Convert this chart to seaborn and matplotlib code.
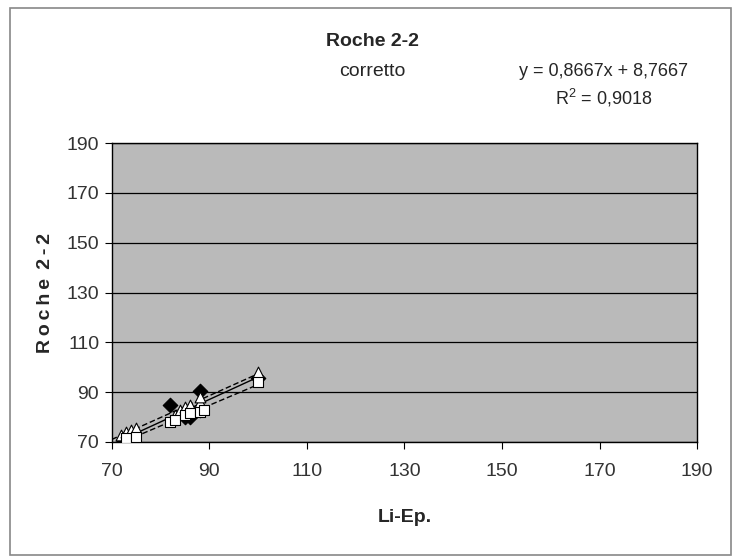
import numpy as np
import pandas as pd
import seaborn as sns
import matplotlib.pyplot as plt
from matplotlib.patches import Rectangle

# Data
diam_x = [72.5, 73, 82, 85, 86, 88, 88, 100]
diam_y = [71, 70.5, 85, 80, 80, 90.5, 83, 95.5]
tri_x = [72, 73, 74, 75, 83, 84, 85, 86, 88, 88, 100]
tri_y = [73, 74, 75, 75.5, 81, 83, 84, 85, 86, 88, 98]
sq_x = [73, 75, 82, 83, 85, 86, 88, 89, 100]
sq_y = [71.5, 72, 78, 79, 81, 81.5, 82, 83, 94]

ticks = [70, 90, 110, 130, 150, 170, 190]
title = "Roche 2-2"
subtitle = "corretto"
equation = "y = 0,8667x + 8,7667"
r2 = "R$^2$ = 0,9018"
xlabel = "Li-Ep."
ylabel = "R\u2009o\u2009c\u2009h\u2009e \u20092\u2009-\u20092"

sns.set_style("white")
plt.rcParams['font.family'] = ['Liberation Sans', 'DejaVu Sans']
plt.rcParams['mathtext.fontset'] = 'custom'
plt.rcParams['mathtext.rm'] = 'Liberation Sans'

fig = plt.figure(figsize=(7.4, 5.57), dpi=100)
ax = fig.add_axes([0.151, 0.2065, 0.791, 0.5365])
ax.set_facecolor('#bababa')

df = pd.concat([
    pd.DataFrame({'x': diam_x, 'y': diam_y, 's': 'd'}),
    pd.DataFrame({'x': tri_x, 'y': tri_y, 's': 't'}),
    pd.DataFrame({'x': sq_x, 'y': sq_y, 's': 'q'}),
])

# trendlines
for xs, ys, ls in [(diam_x, diam_y, '-'), (tri_x, tri_y, (0, (4, 2))), (sq_x, sq_y, (0, (4, 2)))]:
    k, b = np.polyfit(xs, ys, 1)
    xx = np.array([70, max(xs)])
    ax.plot(xx, k * xx + b, color='black', lw=1.0, linestyle=ls, zorder=2)

sns.scatterplot(data=df[df.s == 'd'], x='x', y='y', ax=ax, marker='D', s=55,
                color='black', edgecolor='black', linewidth=0.8, zorder=3, legend=False)
sns.scatterplot(data=df[df.s == 't'], x='x', y='y', ax=ax, marker='^', s=60,
                color='white', edgecolor='black', linewidth=0.8, zorder=4, legend=False)
sns.scatterplot(data=df[df.s == 'q'], x='x', y='y', ax=ax, marker='s', s=45,
                color='white', edgecolor='black', linewidth=0.8, zorder=5, legend=False)

ax.set_xlim(70, 190)
ax.set_ylim(70, 190)
ax.set_xticks(ticks)
ax.set_yticks(ticks)
ax.yaxis.grid(True, color='black', lw=0.9)
ax.xaxis.grid(False)
ax.set_axisbelow(True)
for sp in ax.spines.values():
    sp.set_visible(True)
    sp.set_color('black')
    sp.set_linewidth(1.0)
ax.tick_params(axis='both', direction='out', length=5, width=0.8, color='black',
               labelsize=14, labelcolor='#333333', left=True, bottom=True)
ax.tick_params(axis='x', pad=10)
ax.tick_params(axis='y', pad=4)
ax.set_xlabel(xlabel, fontsize=14, fontweight='bold', labelpad=21)
ax.set_ylabel(ylabel, fontsize=14, fontweight='bold', labelpad=9)

fig.text(0.503, 0.926, title, ha='center', va='center', fontsize=14, fontweight='bold')
fig.text(0.503, 0.872, subtitle, ha='center', va='center', fontsize=14)
fig.text(0.816, 0.872, equation, ha='center', va='center', fontsize=13)
fig.text(0.816, 0.824, r2, ha='center', va='center', fontsize=13)

fig.patches.append(Rectangle((0.013, 0.003), 0.975, 0.982, transform=fig.transFigure,
                             fill=False, edgecolor='#888888', lw=1.2))

fig.savefig('out.png', dpi=100)
